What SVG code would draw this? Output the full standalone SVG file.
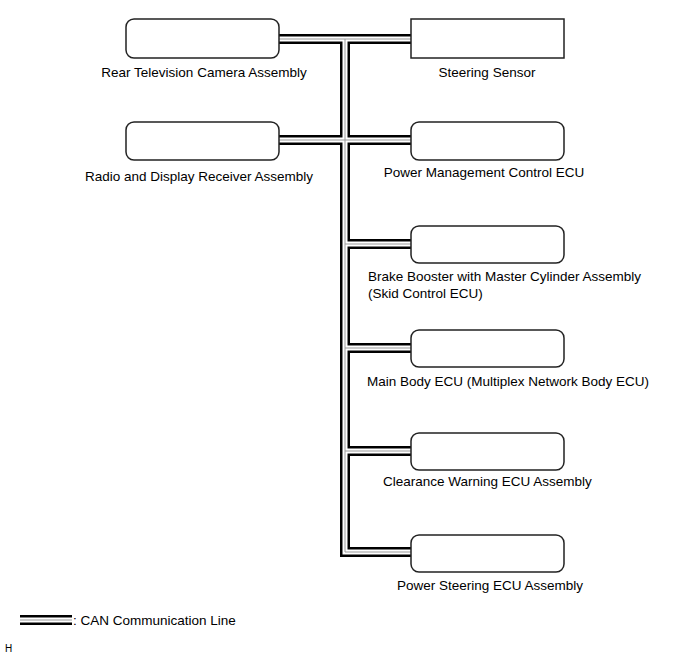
<svg xmlns="http://www.w3.org/2000/svg" width="690" height="659" viewBox="0 0 690 659">
<style>
.box{fill:#fff;stroke:#222;stroke-width:1.5}
.t{font-family:"Liberation Sans",Arial,sans-serif;font-size:13.5px;fill:#000}
.b1{fill:none;stroke:#000;stroke-width:10;stroke-linejoin:miter;stroke-linecap:butt}
.b2{fill:none;stroke:#fff;stroke-width:5;stroke-linejoin:miter;stroke-linecap:butt}
.b3{fill:none;stroke:#999;stroke-width:1;stroke-linejoin:miter;stroke-linecap:butt}
</style>
<defs>
<path id="bus" d="M279 39H411M345 39V552H411M279 140H411M345 244H411M345 348H411M345 451H411"/>
<path id="leg" d="M20 620H72"/>
</defs>
<g id="connectors">
<use href="#bus" class="b1"/>
<use href="#bus" class="b2"/>
<use href="#bus" class="b3"/>
<use href="#leg" class="b1"/>
<use href="#leg" class="b2"/>
<use href="#leg" class="b3"/>
</g>
<g id="rear-camera">
<rect class="box" x="126" y="19" width="153" height="39" rx="8"/>
<text class="t" x="204" y="77" text-anchor="middle">Rear Television Camera Assembly</text>
</g>
<g id="steering-sensor">
<rect class="box" x="411" y="19" width="153" height="39"/>
<text class="t" x="487" y="77" text-anchor="middle">Steering Sensor</text>
</g>
<g id="radio">
<rect class="box" x="126" y="122" width="153" height="38" rx="8"/>
<text class="t" x="199" y="181" text-anchor="middle">Radio and Display Receiver Assembly</text>
</g>
<g id="power-mgmt">
<rect class="box" x="411" y="122" width="153" height="38" rx="8"/>
<text class="t" x="484" y="177" text-anchor="middle">Power Management Control ECU</text>
</g>
<g id="brake-booster">
<rect class="box" x="411" y="226" width="153" height="37" rx="8"/>
<text class="t" x="368" y="281">Brake Booster with Master Cylinder Assembly</text>
<text class="t" x="368" y="298">(Skid Control ECU)</text>
</g>
<g id="main-body">
<rect class="box" x="411" y="330" width="153" height="37" rx="8"/>
<text class="t" x="367" y="386">Main Body ECU (Multiplex Network Body ECU)</text>
</g>
<g id="clearance">
<rect class="box" x="411" y="433" width="153" height="37" rx="8"/>
<text class="t" x="383" y="486">Clearance Warning ECU Assembly</text>
</g>
<g id="power-steering">
<rect class="box" x="411" y="535" width="153" height="37" rx="8"/>
<text class="t" x="397" y="590">Power Steering ECU Assembly</text>
</g>
<g id="legend">
<text class="t" x="73" y="625">: CAN Communication Line</text>
<text class="t" x="5" y="652" style="font-size:10px">H</text>
</g>
</svg>
